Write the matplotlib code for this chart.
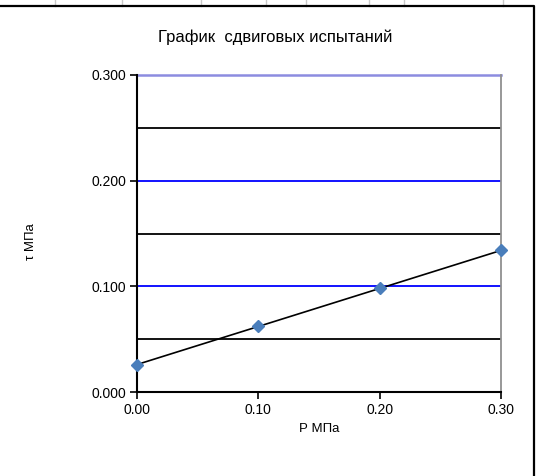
import numpy as np
import matplotlib
matplotlib.use('Agg')
import matplotlib.pyplot as plt
from matplotlib.lines import Line2D

plt.rcParams['font.family'] = ['Liberation Sans', 'DejaVu Sans']

# shear test data
P = [0.00, 0.10, 0.20, 0.30]
tau = [0.026, 0.062, 0.098, 0.134]
title = 'График  сдвиговых испытаний'
xticks = [0.0, 0.1, 0.2, 0.3]
yticks = [0.0, 0.1, 0.2, 0.3]
minor_grid = [0.05, 0.15, 0.25]
major_grid = [0.1, 0.2]

W, H = 536, 476
fig = plt.figure(figsize=(W / 100, H / 100), dpi=100)

def px(x, y):
    return x / W, 1 - y / H

# sheet cell lines above the chart object
for x in [55, 122, 201, 266, 306, 369, 404, 503]:
    fig.add_artist(Line2D([x / W] * 2, [1, 1 - 6 / H], color='#c8c8c8', lw=1))
# chart frame
x0, y0 = px(-5, 6)
x1, y1 = px(534, 490)
fig.add_artist(Line2D([x0, x1, x1], [y0, y0, y1], color='black', lw=1.6))

l, t = px(137, 75)
r, b = px(501, 392)
ax = fig.add_axes([l, b, r - l, t - b])

for y in minor_grid:
    ax.axhline(y, color='black', lw=1.3, zorder=1)
for y in major_grid:
    ax.axhline(y, color='#0000ff', lw=1.3, zorder=1)
ax.axhline(0.3, color='#8c8ce0', lw=1.8, zorder=1, clip_on=False)

# linear trendline through the measurements
k, c = np.polyfit(P, tau, 1)
xs = np.array([0.0, 0.3])
ax.plot(xs, k * xs + c, color='black', lw=1.2, zorder=2)
ax.plot(P, tau, linestyle='none', marker='D', ms=6.5, color='#4a7ebb',
        markeredgecolor='#4a7ebb', zorder=3, clip_on=False)

ax.set_xlim(0, 0.3)
ax.set_ylim(0, 0.3)
ax.set_xticks(xticks)
ax.set_yticks(yticks)
ax.set_xticklabels(['%.2f' % v for v in xticks])
ax.set_yticklabels(['%.3f' % v for v in yticks])
ax.tick_params(direction='out', length=5, width=1.2, labelsize=10, pad=3)

ax.spines['top'].set_visible(False)
ax.spines['right'].set_color('#909090')
ax.spines['right'].set_linewidth(1.3)
ax.spines['left'].set_linewidth(1.5)
ax.spines['bottom'].set_linewidth(1.5)

ax.set_xlabel('Р МПа', fontsize=9.5, labelpad=4)
ax.set_ylabel('τ МПа', fontsize=9.5)
ax.yaxis.set_label_coords((37 - 137) / (501 - 137), (392 - 242) / (392 - 75))

tx, ty = px(275, 37)
fig.text(tx, ty, title, ha='center', va='center', fontsize=12)

fig.savefig('out.png', dpi=100)
